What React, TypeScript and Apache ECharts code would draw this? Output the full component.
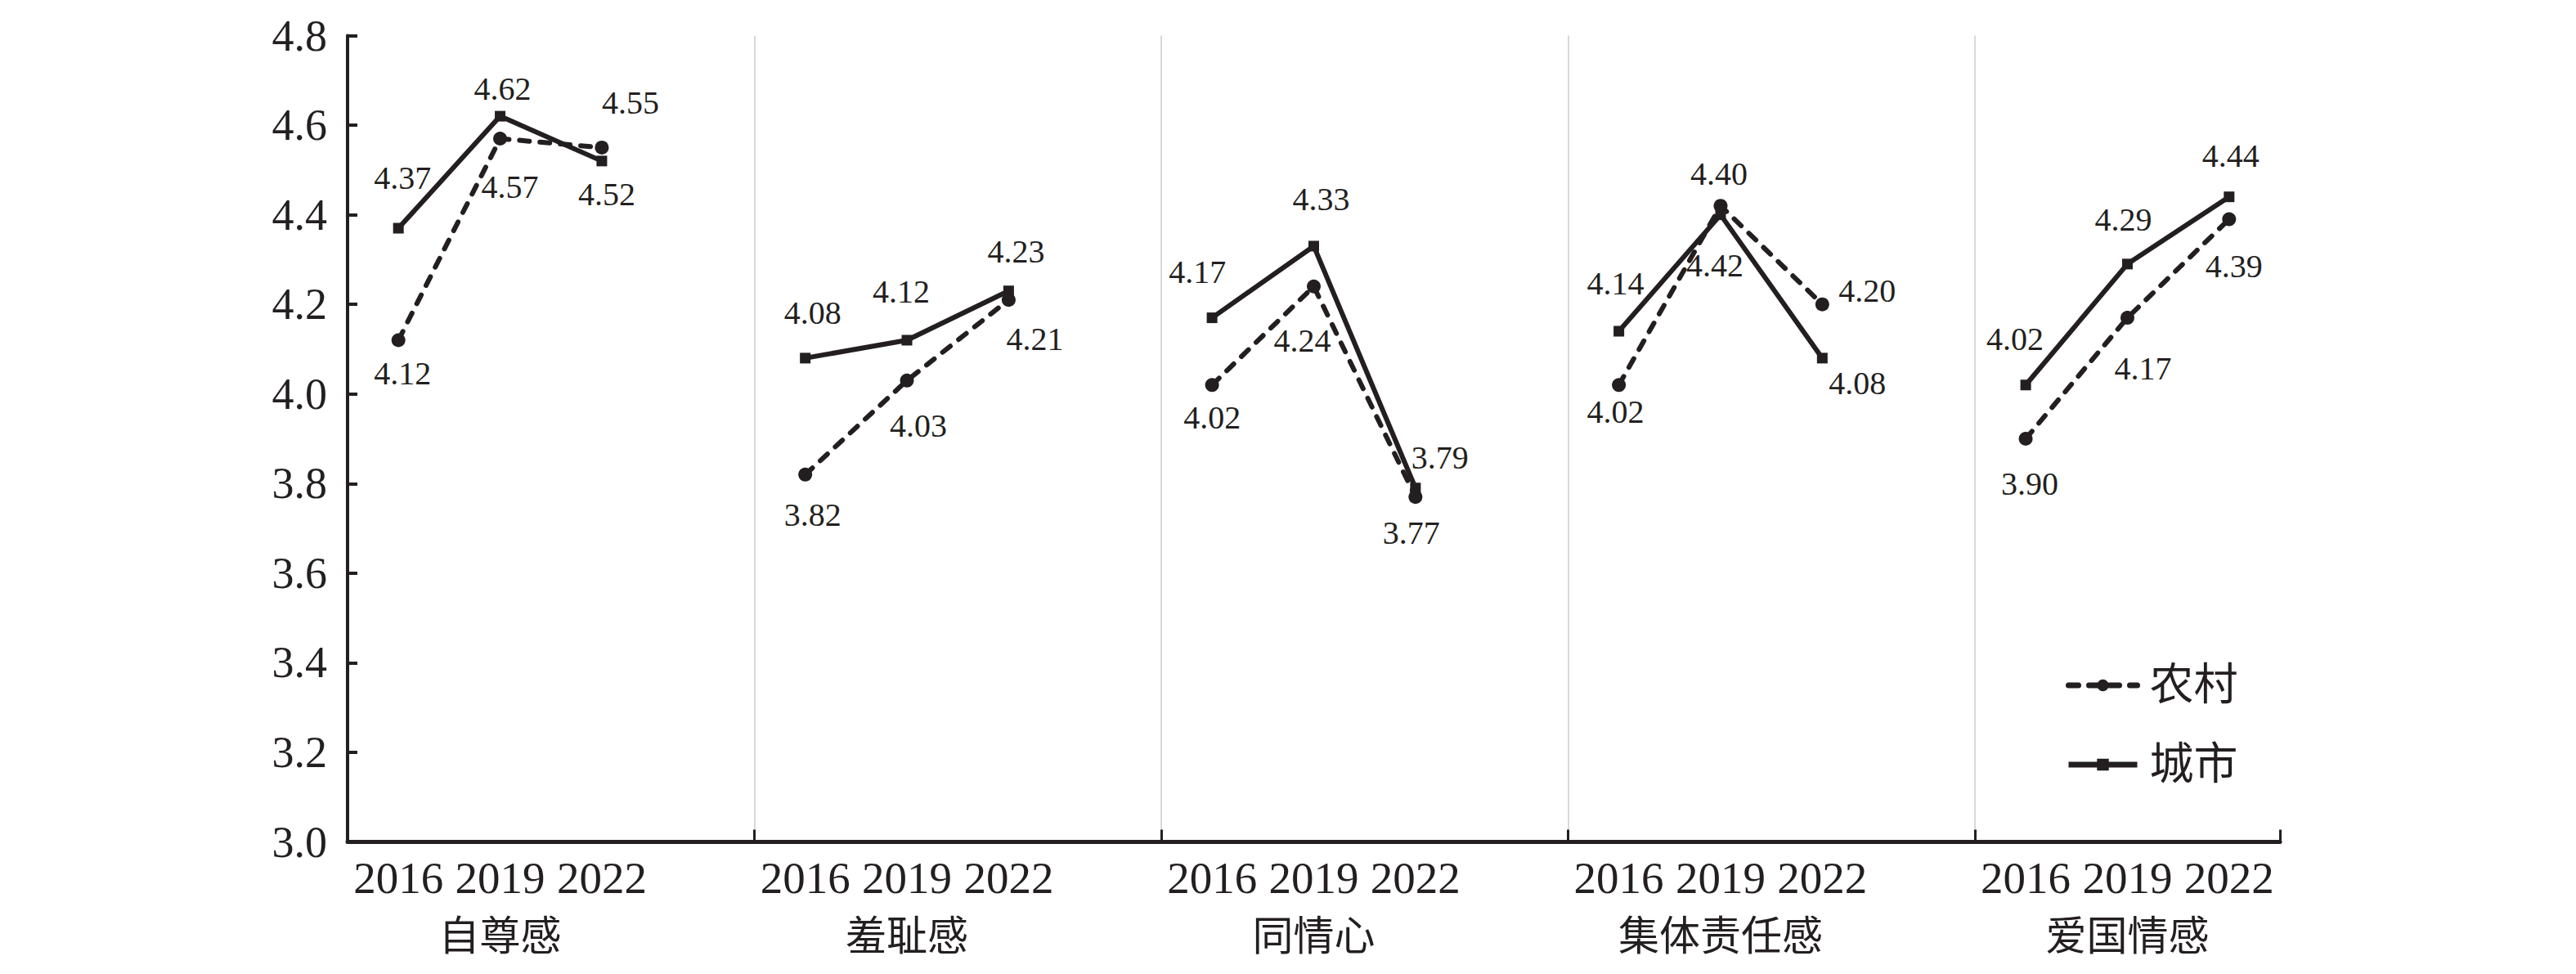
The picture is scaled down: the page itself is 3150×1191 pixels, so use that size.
import React, { useEffect, useRef } from "react";
import * as echarts from "echarts";

// ---- data ----
const groups = ["自尊感", "羞耻感", "同情心", "集体责任感", "爱国情感"];
const years = ["2016", "2019", "2022"];
const ruralValues = [
  [4.12, 4.57, 4.55],
  [3.82, 4.03, 4.21],
  [4.02, 4.24, 3.77],
  [4.02, 4.42, 4.2],
  [3.9, 4.17, 4.39],
];
const urbanValues = [
  [4.37, 4.62, 4.52],
  [4.08, 4.12, 4.23],
  [4.17, 4.33, 3.79],
  [4.14, 4.4, 4.08],
  [4.02, 4.29, 4.44],
];
const seriesNames = ["农村", "城市"];
const yMin = 3.0;
const yMax = 4.8;
const yStep = 0.2;

// ---- label placement (layout, not data) ----
const ruralLabelOffsets = [
  [[5, 41], [12, 59], [35, -55]],
  [[9, 49], [14, 55], [32, 48]],
  [[0, 40], [-14, 66], [-5, 44]],
  [[-4, 33], [-7, 73], [55, -17]],
  [[5, 55], [19, 62], [6, 57]],
];
const urbanLabelOffsets = [
  [[5, -62], [3, -34], [6, 41]],
  [[9, -55], [-7, -59], [9, -48]],
  [[-18, -56], [9, -57], [30, -37]],
  [[-4, -59], [-2, -50], [43, 31]],
  [[-13, -56], [-5, -54], [2, -50]],
];

const INK = "#231f20";
const FONT = '"Liberation Serif", "Times New Roman", "Noto Sans CJK SC", serif';

function buildCategories() {
  const cats: string[] = [];
  const groupCats: string[] = [];
  groups.forEach((g, gi) => {
    years.forEach((y, yi) => {
      cats.push(y);
      groupCats.push(yi === 1 ? g : "");
    });
    if (gi < groups.length - 1) {
      cats.push("");
      groupCats.push("");
    }
  });
  return { cats, groupCats };
}

function buildSeriesData(values: number[][], offsets: number[][][]) {
  const out: any[] = [];
  values.forEach((vals, gi) => {
    vals.forEach((v, yi) => {
      out.push({ value: v, label: { offset: offsets[gi][yi] } });
    });
    if (gi < values.length - 1) out.push(null);
  });
  return out;
}

export default function App() {
  const ref = useRef<HTMLDivElement>(null);
  useEffect(() => {
    if (!ref.current) return;
    const chart = echarts.init(ref.current, undefined, { renderer: "svg" });
    const { cats, groupCats } = buildCategories();
    const boundary = (i: number) => i % (years.length + 1) === 0;
    const labelBase = {
      show: true,
      position: "inside",
      fontSize: 40,
      fontFamily: FONT,
      color: INK,
      formatter: (p: any) => Number(p.value).toFixed(2),
    };
    chart.setOption({
      animation: false,
      backgroundColor: "#ffffff",
      textStyle: { fontFamily: FONT, color: INK },
      grid: { left: 425, right: 362, top: 43.5, bottom: 161.5, containLabel: false },
      legend: {
        data: seriesNames,
        orient: "vertical",
        left: 2521,
        top: 806,
        itemWidth: 84,
        itemHeight: 18,
        itemGap: 43,
        lineStyle: { width: 7 },
        textStyle: { fontSize: 54, fontFamily: FONT, color: INK, padding: [0, 0, 0, 10] },
        selectedMode: false,
      },
      xAxis: [
        {
          type: "category",
          data: cats,
          boundaryGap: true,
          position: "bottom",
          axisLine: { show: true, lineStyle: { color: INK, width: 5 } },
          axisTick: {
            show: true,
            inside: true,
            length: 15,
            interval: (i: number) => boundary(i),
            lineStyle: { color: INK, width: 3 },
          },
          splitLine: {
            show: true,
            interval: (i: number) => boundary(i),
            showMinLine: false,
            showMaxLine: false,
            lineStyle: { color: "#d9d9d9", width: 2 },
          },
          axisLabel: {
            interval: 0,
            margin: 16,
            fontSize: 55,
            fontFamily: FONT,
            color: INK,
          },
        },
        {
          type: "category",
          data: groupCats,
          boundaryGap: true,
          position: "bottom",
          offset: 0,
          axisLine: { show: false },
          axisTick: { show: false },
          splitLine: { show: false },
          axisLabel: {
            interval: 0,
            margin: 90,
            fontSize: 50,
            fontFamily: FONT,
            color: INK,
          },
        },
      ],
      yAxis: {
        type: "value",
        min: yMin,
        max: yMax,
        interval: yStep,
        axisLine: { show: true, lineStyle: { color: INK, width: 4 } },
        axisTick: { show: true, inside: true, length: 12, lineStyle: { color: INK, width: 4 } },
        splitLine: { show: false },
        axisLabel: {
          margin: 25,
          fontSize: 54,
          fontFamily: FONT,
          color: INK,
          formatter: (v: number) => v.toFixed(1),
        },
      },
      series: [
        {
          name: seriesNames[0],
          type: "line",
          xAxisIndex: 0,
          data: buildSeriesData(ruralValues, ruralLabelOffsets),
          connectNulls: false,
          symbol: "circle",
          symbolSize: 17,
          itemStyle: { color: INK },
          lineStyle: { color: INK, width: 6, type: [12, 13], cap: "round" },
          label: labelBase,
          emphasis: { disabled: true },
          silent: true,
          z: 3,
        },
        {
          name: seriesNames[1],
          type: "line",
          xAxisIndex: 0,
          data: buildSeriesData(urbanValues, urbanLabelOffsets),
          connectNulls: false,
          symbol: "rect",
          symbolSize: 13,
          itemStyle: { color: INK },
          lineStyle: { color: INK, width: 6, type: "solid" },
          label: labelBase,
          emphasis: { disabled: true },
          silent: true,
          z: 2,
        },
      ],
    });
    return () => chart.dispose();
  }, []);
  return (
    <div
      ref={ref}
      style={{ position: "absolute", left: 0, top: 0, width: 3150, height: 1191, background: "#fff" }}
    />
  );
}
